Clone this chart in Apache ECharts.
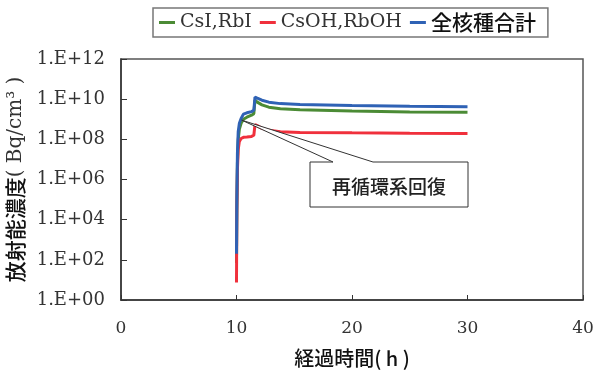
<!DOCTYPE html>
<html>
<head>
<meta charset="utf-8">
<script src="https://cdn.jsdelivr.net/npm/echarts@6/dist/echarts.min.js"></script>
<style>
  html, body { margin: 0; padding: 0; background: #fff; }
  #chart { width: 602px; height: 374px; }
</style>
</head>
<body>
<div id="chart"></div>
<script>
// Elapsed time (h)
const hours = [10.0, 10.03, 10.08, 10.15, 10.25, 10.4, 10.6, 10.9, 11.3, 11.5, 11.6, 11.8, 12.2, 12.8, 13.8, 15.5, 20, 25, 30];

// Activity concentration (Bq/cm3)
const csiRbi = [7.0e1, 3.2e4, 6.3e6, 1.0e8, 3.2e8, 6.3e8, 1.0e9, 1.26e9, 1.6e9, 1.9e9, 8.9e9, 7.1e9, 5.2e9, 4.0e9, 3.3e9, 3.0e9, 2.6e9, 2.3e9, 2.2e9];
const csohRboh = [7.4e0, 3.2e4, 3.2e6, 3.2e7, 7.9e7, 1.1e8, 1.26e8, 1.3e8, 1.4e8, 1.6e8, 5.4e8, 4.8e8, 3.5e8, 2.8e8, 2.4e8, 2.2e8, 2.1e8, 2.0e8, 1.95e8];
const allNuclides = [2.0e2, 1.0e5, 2.0e7, 2.5e8, 6.3e8, 1.1e9, 1.8e9, 2.1e9, 2.4e9, 2.8e9, 1.26e10, 1.12e10, 8.9e9, 7.1e9, 6.0e9, 5.5e9, 4.8e9, 4.4e9, 4.2e9];

const seriesNames = ['CsI,RbI', 'CsOH,RbOH', '全核種合計'];
const seriesColors = ['#4b8b35', '#f0303c', '#2f62b5'];
const seriesValues = [csiRbi, csohRboh, allNuclides];

// Annotation: recirculation system restored
const noteText = '再循環系回復';
const noteAnchor = [10.45, 9.0e8];

const serif = '"DejaVu Serif", "Liberation Serif", serif';
const cjk = '"Noto Sans CJK JP", "Noto Sans CJK SC", sans-serif';

const chart = echarts.init(document.getElementById('chart'), null, { renderer: 'canvas' });

const pairs = v => hours.map((h, i) => [h, v[i]]);

chart.setOption({
  animation: false,
  backgroundColor: '#fff',
  grid: {
    left: 121, right: 19, top: 59, bottom: 74,
    outerBoundsMode: 'none',
    show: true, borderColor: '#555', borderWidth: 1.5, backgroundColor: 'transparent'
  },
  legend: {
    left: 153, top: 8,
    padding: [4, 12, 4, 6],
    itemGap: 8,
    itemWidth: 16, itemHeight: 3,
    icon: 'rect',
    borderColor: '#777', borderWidth: 1.5,
    data: seriesNames,
    formatter: name => /[\u3000-\u9fff]/.test(name) ? '{c|' + name + '}' : '{s|' + name + '}',
    textStyle: {
      rich: {
        s: { fontFamily: serif, fontSize: 19, color: '#333' },
        c: { fontFamily: cjk, fontSize: 21, fontWeight: 500, color: '#111' }
      }
    }
  },
  xAxis: {
    type: 'value', min: 0, max: 40, interval: 10,
    name: '経過時間( h )',
    nameLocation: 'middle', nameGap: 48,
    nameTextStyle: { fontFamily: cjk, fontSize: 20, color: '#111', fontWeight: 500 },
    axisLine: { lineStyle: { color: '#333', width: 1.5 } },
    axisTick: { inside: true, length: 5, lineStyle: { color: '#333' } },
    axisLabel: { fontFamily: serif, fontSize: 17, color: '#333', margin: 20 },
    splitLine: { show: false }
  },
  yAxis: {
    type: 'log', logBase: 100, min: 1, max: 1e12,
    name: '{k|放射能濃度}{s|( Bq/cm³ )}',
    nameLocation: 'middle', nameGap: 93, nameRotate: 90,
    nameTextStyle: {
      rich: {
        k: { fontFamily: cjk, fontSize: 21, fontWeight: 500, color: '#111' },
        s: { fontFamily: serif, fontSize: 20, color: '#333' }
      }
    },
    axisLine: { show: true, lineStyle: { color: '#333', width: 1.5 } },
    axisTick: { show: true, inside: true, length: 6, lineStyle: { color: '#333' } },
    axisLabel: {
      fontFamily: serif, fontSize: 18, color: '#333', margin: 16,
      formatter: v => {
        const e = Math.round(Math.log10(v));
        return '1.E+' + (e < 10 ? '0' + e : e);
      }
    },
    splitLine: { show: false }
  },
  series: seriesNames.map((name, i) => ({
    name,
    type: 'line',
    data: pairs(seriesValues[i]),
    showSymbol: false,
    symbol: 'none',
    color: seriesColors[i],
    lineStyle: { width: 3, color: seriesColors[i] },
    z: 2 + i
  }))
});

// Callout box with a pointer to the moment the recirculation system is restored
const a = chart.convertToPixel({ gridIndex: 0 }, noteAnchor);
const box = { x1: 310, y1: 162, x2: 468, y2: 207, n1: 333, n2: 373 };
chart.setOption({
  graphic: [
    {
      type: 'polygon', z: 10,
      shape: {
        points: [
          [box.x1, box.y1], [box.n1, box.y1], [a[0], a[1]], [box.n2, box.y1],
          [box.x2, box.y1], [box.x2, box.y2], [box.x1, box.y2]
        ]
      },
      style: { fill: '#fff', stroke: '#333', lineWidth: 1 }
    },
    {
      type: 'text', z: 11,
      x: (box.x1 + box.x2) / 2, y: (box.y1 + box.y2) / 2 + 2,
      style: {
        text: noteText, font: '500 19px ' + cjk, fill: '#222',
        textAlign: 'center', textVerticalAlign: 'middle'
      }
    }
  ]
});
</script>
</body>
</html>
